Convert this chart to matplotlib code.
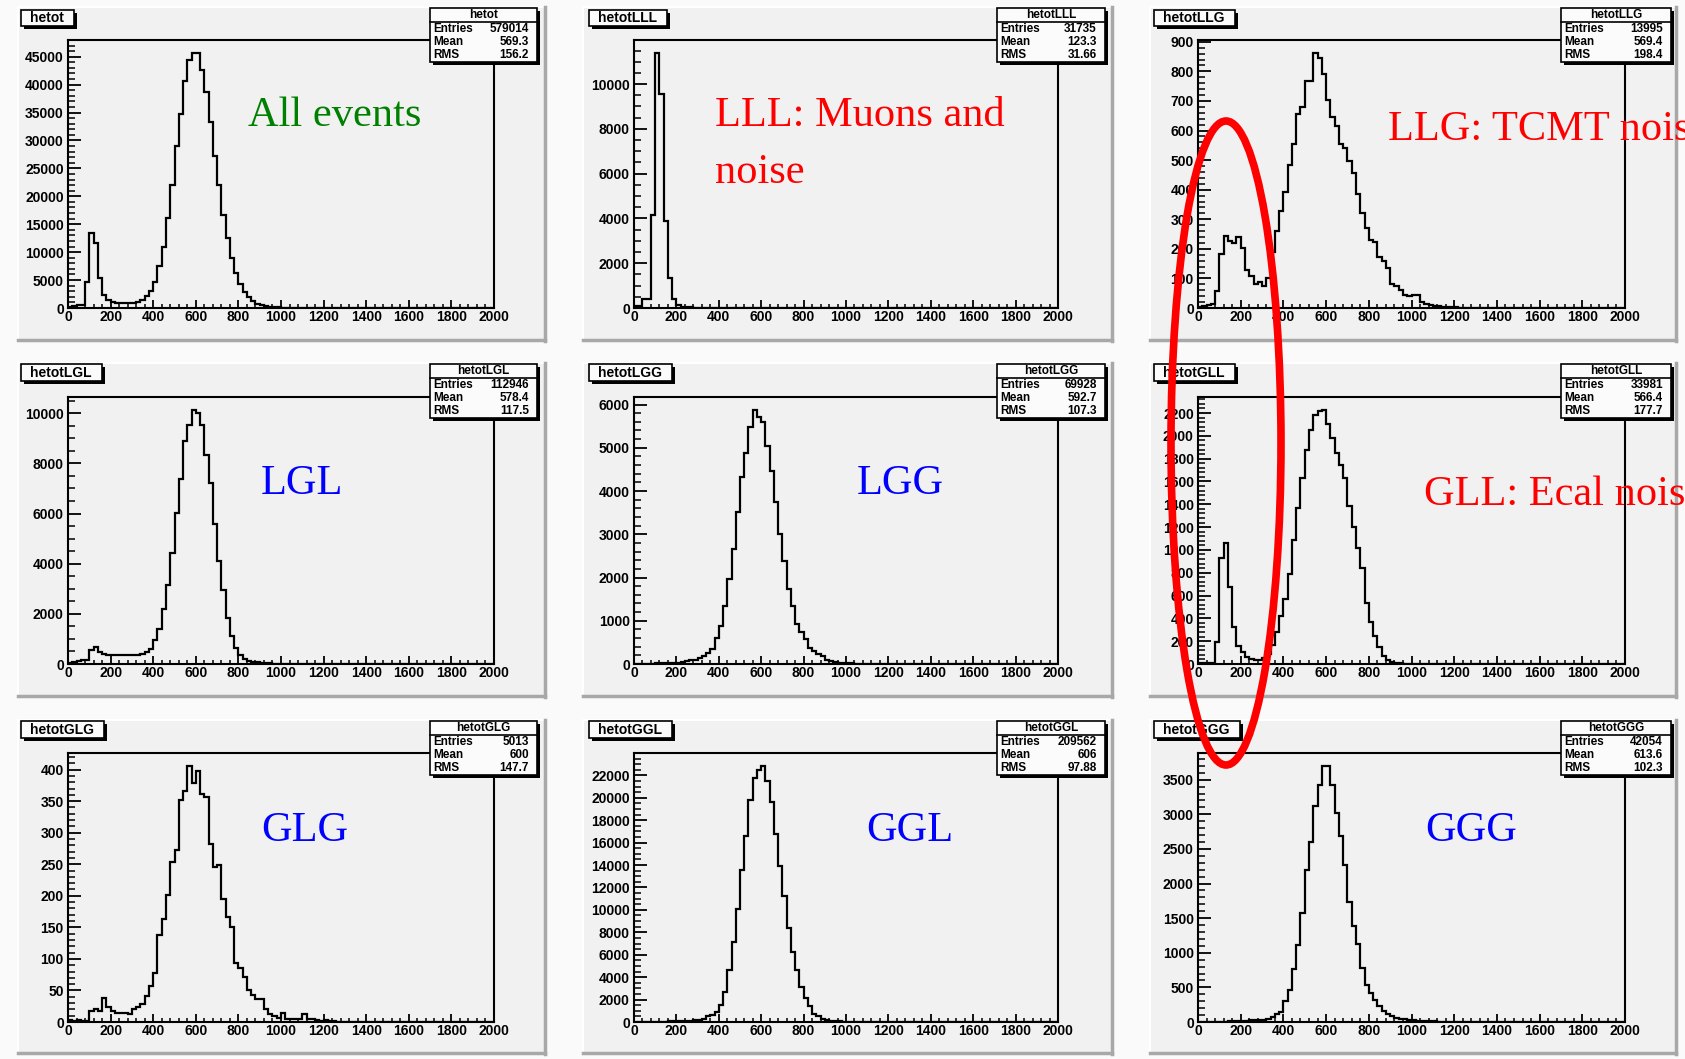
import numpy as np
import matplotlib
matplotlib.use('Agg')
import matplotlib.pyplot as plt
from matplotlib.patches import Rectangle, Ellipse
from matplotlib.ticker import MultipleLocator, FuncFormatter

plt.rcParams['font.family'] = 'Liberation Sans'

W, H = 1685, 1059
edges = np.arange(0, 2001, 20)

# bin contents, 20-wide bins starting at 0
hetot = [150, 300, 600, 600, 4600, 13400, 11700, 5400, 2400, 1500, 1000, 950, 950, 950, 950,
         950, 1000, 1500, 2100, 3000, 4600, 7450, 11000, 16100, 22000, 29000, 34700, 40700,
         44400, 45700, 45700, 42700, 38600, 33300, 27300, 22000, 16600, 12600, 9000, 6300,
         4350, 2900, 1900, 1200, 800, 500, 300, 200, 150, 100, 80, 60, 40, 30, 20, 15, 10, 8, 5, 5]
hetotLLL = [75, 100, 400, 400, 4170, 11400, 9550, 3900, 1340, 420, 150, 60, 40, 30, 20, 15,
            10, 8, 5, 5, 3]
hetotLLG = [3, 6, 11, 15, 56, 182, 245, 228, 219, 240, 202, 127, 109, 82, 87, 75, 101, 188,
            259, 327, 392, 482, 555, 656, 678, 768, 768, 863, 844, 791, 703, 647, 615, 555, 540,
            498, 458, 385, 321, 270, 231, 223, 171, 158, 135, 82, 75, 62, 45, 42, 45, 45, 19, 15,
            11, 8, 6, 5, 4, 3, 2]
hetotLGL = [40, 66, 106, 172, 170, 570, 660, 480, 400, 350, 350, 350, 350, 350, 350, 350, 350,
            410, 465, 600, 940, 1390, 2190, 3150, 4410, 6040, 7390, 8890, 9550, 10140, 10000,
            9540, 8350, 7230, 5600, 4120, 2950, 1830, 1100, 636, 345, 212, 106, 80, 60, 40, 30,
            20, 10, 10, 8, 5]
hetotLGG = [5, 5, 8, 10, 10, 12, 15, 18, 20, 25, 30, 40, 60, 85, 100, 140, 192, 254, 346, 600,
            885, 1330, 1960, 2650, 3510, 4330, 4890, 5480, 5880, 5710, 5600, 5050, 4460, 3750,
            3000, 2380, 1730, 1350, 920, 730, 577, 370, 290, 240, 190, 100, 60, 40, 30, 20, 15,
            12, 10, 8, 6, 5, 4, 3, 2]
hetotGLL = [5, 5, 5, 8, 190, 927, 1058, 679, 323, 160, 105, 61, 47, 38, 38, 52, 90, 169, 277,
            417, 568, 790, 1087, 1364, 1632, 1874, 2049, 2186, 2215, 2229, 2101, 1985, 1850,
            1743, 1632, 1387, 1203, 1020, 839, 533, 364, 242, 149, 67, 32, 17, 9, 6, 4, 3, 2]
hetotGLG = [3, 2, 3, 2, 2, 18, 21, 18, 38, 24, 17, 15, 15, 15, 12, 20, 23, 29, 41, 57, 77, 138,
            163, 201, 254, 273, 352, 366, 406, 379, 398, 361, 357, 282, 245, 249, 195, 166, 151,
            94, 86, 72, 51, 42, 36, 36, 20, 13, 9, 6, 14, 5, 5, 5, 5, 12, 5, 4, 3, 2, 3, 2, 1]
hetotGGL = [5, 5, 10, 10, 15, 20, 30, 40, 100, 100, 100, 100, 100, 100, 150, 200, 300, 500, 650,
            900, 1550, 2690, 4600, 7100, 10090, 13550, 16630, 19820, 21790, 22500, 22850, 21460,
            19610, 16780, 13940, 11250, 8420, 6270, 4600, 3100, 2150, 1400, 750, 500, 300, 200,
            120, 80, 60, 40, 30, 20, 15, 10]
hetotGGG = [0, 0, 2, 3, 3, 5, 5, 8, 10, 12, 15, 18, 25, 25, 25, 30, 48, 72, 120, 145, 300, 460,
            760, 1110, 1580, 2190, 2600, 3115, 3430, 3700, 3700, 3430, 3020, 2680, 2270, 1730,
            1380, 1125, 780, 530, 425, 315, 227, 160, 111, 82, 58, 48, 39, 34, 25, 20, 15, 12,
            10, 8, 6, 5, 4, 3, 2]

hists = [hetot, hetotLLL, hetotLLG, hetotLGL, hetotLGG, hetotGLL, hetotGLG, hetotGGL, hetotGGG]
names = ['hetot', 'hetotLLL', 'hetotLLG', 'hetotLGL', 'hetotLGG',
         'hetotGLL', 'hetotGLG', 'hetotGGL', 'hetotGGG']
entries = ['579014', '31735', '13995', '112946', '69928', '33981', '5013', '209562', '42054']
means = ['569.3', '123.3', '569.4', '578.4', '592.7', '566.4', '600', '606', '613.6']
rms = ['156.2', '31.66', '198.4', '117.5', '107.3', '177.7', '147.7', '97.88', '102.3']
y_major = [5000, 2000, 100, 2000, 1000, 200, 50, 2000, 500]
y_minor = [1000, 500, 20, 500, 200, 40, 10, 500, 100]

notes = [['All events'], ['LLL: Muons and', 'noise'], ['LLG: TCMT noise'],
         ['LGL'], ['LGG'], ['GLL: Ecal noise'], ['GLG'], ['GGL'], ['GGG']]
note_colors = ['#008000', 'red', 'red', 'blue', 'blue', 'red', 'blue', 'blue', 'blue']

# layout in pixels
AX_X = [(68, 494), (634, 1058), (1198, 1625)]
AX_Y = [(40, 308), (397, 664), (753, 1022)]
PAD_X = [(18, 545), (583, 1112), (1150, 1676)]
PAD_Y = [(7, 340), (363, 696), (720, 1053)]
ST_X = [(430, 537), (997, 1105), (1561, 1671)]
ST_Y = [(8, 62), (364, 418), (721, 775)]
TI_X = [21, 589, 1154]
TI_Y = [(10, 26), (364, 381), (721, 738)]
NOTE_XY = [(248, 126), (715, 126), (1388, 140), (261, 494), (857, 494), (1424, 505),
           (261, 841), (866, 841), (1425, 841)]

PADC = '#f1f1f1'


def rect(x0, y0, x1, y1):
    return [x0 / W, 1 - y1 / H, (x1 - x0) / W, (y1 - y0) / H]


fig = plt.figure(figsize=(W / 100, H / 100), dpi=100, facecolor='#fafafa')

bg = fig.add_axes([0, 0, 1, 1], zorder=0)
bg.set_xlim(0, W)
bg.set_ylim(H, 0)
bg.set_axis_off()

fg = fig.add_axes([0, 0, 1, 1], zorder=5)
fg.set_xlim(0, W)
fg.set_ylim(H, 0)
fg.set_axis_off()

titles = []
for i in range(9):
    r, c = divmod(i, 3)
    # pad with bevel
    px0, px1 = PAD_X[c]
    py0, py1 = PAD_Y[r]
    bg.add_patch(Rectangle((px0, py0), px1 - px0, py1 - py0, fc=PADC, ec='none'))
    bg.plot([px0, px1], [py0, py0], color='white', lw=1.5)
    bg.plot([px0, px0], [py0, py1], color='white', lw=1.5)
    bg.plot([px1, px1], [py0, py1 + 1], color='#a8a8a8', lw=2.5)
    bg.plot([px0, px1], [py1, py1], color='#a8a8a8', lw=2.5)

    # histogram frame
    ax = fig.add_axes(rect(AX_X[c][0], AX_Y[r][0], AX_X[c][1], AX_Y[r][1]), zorder=1)
    ax.set_facecolor(PADC)
    counts = np.array(hists[i] + [0] * (100 - len(hists[i])), dtype=float)
    ax.stairs(counts, edges, color='black', lw=1.6)
    ax.set_xlim(0, 2000)
    ax.set_ylim(0, counts.max() * 1.05)
    ax.xaxis.set_major_locator(MultipleLocator(200))
    ax.xaxis.set_minor_locator(MultipleLocator(40))
    ax.yaxis.set_major_locator(MultipleLocator(y_major[i]))
    ax.yaxis.set_minor_locator(MultipleLocator(y_minor[i]))
    ax.xaxis.set_major_formatter(FuncFormatter(lambda v, p: '%d' % round(v)))
    ax.yaxis.set_major_formatter(FuncFormatter(lambda v, p: '%d' % round(v)))
    for s in ax.spines.values():
        s.set_linewidth(1.5)
    ax.tick_params(axis='y', which='major', direction='in', length=9.5, width=1.3,
                   labelsize=10, pad=3, right=False)
    ax.tick_params(axis='y', which='minor', direction='in', length=4.8, width=1.1, right=False)
    ax.tick_params(axis='x', which='major', direction='in', length=6, width=1.3,
                   labelsize=10, pad=1.5, top=False)
    ax.tick_params(axis='x', which='minor', direction='in', length=3, width=1.1, top=False)
    for lab in ax.get_xticklabels() + ax.get_yticklabels():
        lab.set_fontweight('bold')

    # stats box
    sx0, sx1 = ST_X[c]
    sy0, sy1 = ST_Y[r]
    fg.add_patch(Rectangle((sx0 + 3, sy0 + 3), sx1 - sx0, sy1 - sy0, fc='black', ec='none'))
    fg.add_patch(Rectangle((sx0, sy0), sx1 - sx0, sy1 - sy0, fc='#fbfbfb', ec='black', lw=1.2))
    fg.plot([sx0, sx1], [sy0 + 14, sy0 + 14], color='black', lw=1.2)
    fg.text((sx0 + sx1) / 2, sy0 + 7, names[i], ha='center', va='center',
            fontsize=8.5, fontweight='bold')
    for k, (lab, val) in enumerate([('Entries', entries[i]), ('Mean', means[i]), ('RMS', rms[i])]):
        yy = sy0 + 21 + 13 * k
        fg.text(sx0 + 3, yy, lab, ha='left', va='center', fontsize=8.5, fontweight='bold')
        fg.text(sx1 - 8, yy, val, ha='right', va='center', fontsize=8.5, fontweight='bold')

    # title box text (box drawn after layout is known)
    ty0, ty1 = TI_Y[r]
    t = fg.text(TI_X[c] + 9, (ty0 + ty1) / 2 + 0.5, names[i], ha='left', va='center',
                fontsize=10, fontweight='bold', zorder=5)
    titles.append((t, TI_X[c], ty0, ty1))

    # annotation
    nx, ny = NOTE_XY[i]
    for k, line in enumerate(notes[i]):
        fg.text(nx, ny + 57 * k, line, color=note_colors[i], ha='left', va='baseline',
                fontsize=30.5, family='Liberation Serif')

fg.add_patch(Ellipse((1226, 443), width=110, height=644, fill=False, ec='red', lw=5.5, zorder=6))

# title boxes with shadow
fig.canvas.draw()
rend = fig.canvas.get_renderer()
for t, x0, y0, y1 in titles:
    bb = t.get_window_extent(rend)
    w = bb.x1 + 10 - x0
    fg.add_patch(Rectangle((x0 + 3, y0 + 3), w, y1 - y0, fc='black', ec='none', zorder=3))
    fg.add_patch(Rectangle((x0, y0), w, y1 - y0, fc='#fbfbfb', ec='black', lw=1.2, zorder=4))

fig.savefig('out.png', dpi=100, facecolor=fig.get_facecolor())
